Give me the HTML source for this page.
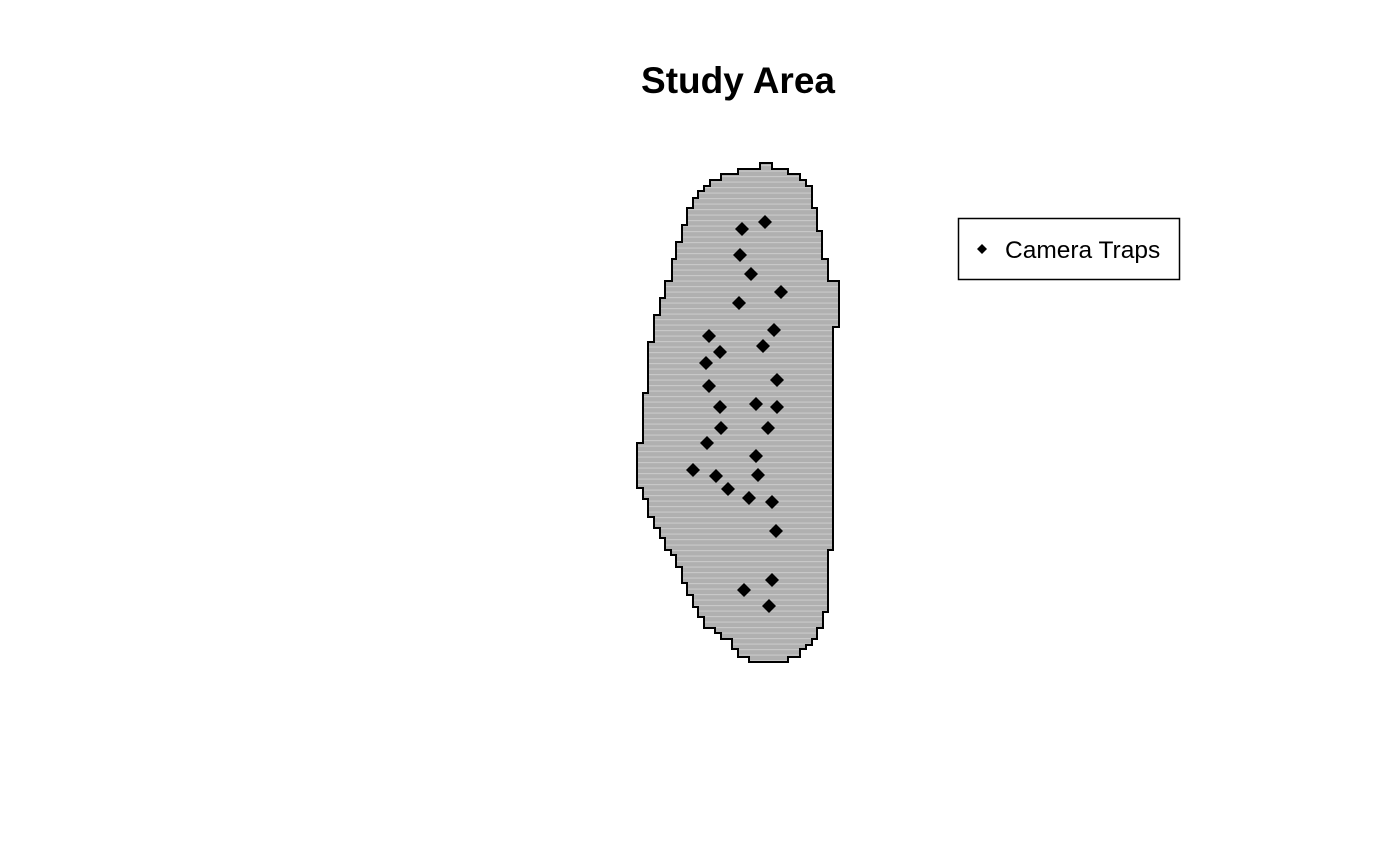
<!DOCTYPE html>
<html><head><meta charset="utf-8"><style>
html,body{margin:0;padding:0;background:#fff}
svg{display:block;font-family:"Liberation Sans",Arial,sans-serif}
</style></head><body>
<svg id="chart" width="1400" height="865" viewBox="0 0 1400 865">
<defs>
<pattern id="hatch" width="6" height="5.5" patternUnits="userSpaceOnUse">
<rect width="6" height="5.5" fill="#b0b0b0"/>
<rect y="0" width="6" height="1.2" fill="#c8c8c8"/>
</pattern>
</defs>
<text x="738" y="93" text-anchor="middle" font-size="37" font-weight="bold">Study Area</text>
<g id="area"></g>
<g id="traps"></g>
<g>
<rect x="958.5" y="218.5" width="221" height="61" fill="#fff" stroke="#000" stroke-width="1.5"/>
<path d="M982 244 L987 249 L982 254 L977 249 Z" fill="#000"/>
<text x="1005" y="258" font-size="24.5">Camera Traps</text>
</g>
</svg>
<script>
// Map units: 1 unit = 10 px; origin at pixel (600, 700), y up
const trapX = [14.2,16.5,14.0,15.1,18.1,13.9,17.4,10.9,16.3,12.0,10.6,17.7,10.9,12.0,15.6,17.7,12.1,16.8,10.7,15.6,9.3,11.6,15.8,12.8,14.9,17.2,17.6,17.2,14.4,16.9];
const trapY = [47.1,47.8,44.5,42.6,40.8,39.7,37.0,36.4,35.4,34.8,33.7,32.0,31.4,29.3,29.6,29.3,27.2,27.2,25.7,24.4,23.0,22.4,22.5,21.1,20.2,19.8,16.9,12.0,11.0,9.4];
// Left boundary: band tops (northing) and easting
const leftTop =  [53.7,53.1,52.6,52.0,51.4,50.9,50.2,49.2,47.5,45.8,44.1,41.9,40.2,38.5,35.8,30.7,25.7,21.2,20.1,18.3,17.2,16.2,15.0,14.5,13.3,11.7,10.5,9.3,8.3,7.2,6.7,6.1,5.1,4.3];
const leftX =    [16.0,13.8,12.1,11.0,10.4,9.8,9.3,8.7,8.2,7.6,7.2,6.5,6.0,5.4,4.8,4.3,3.7,4.3,4.8,5.4,6.0,6.5,7.1,7.6,8.2,8.7,9.3,9.8,10.4,11.5,12.1,13.2,13.8,14.9];
// Right boundary: band tops (northing) and easting
const rightTop = [53.7,53.1,52.6,52.0,51.4,49.2,46.9,44.1,41.9,37.3,15.0,8.8,7.2,6.1,5.5,5.1,4.3];
const rightX =   [17.2,18.8,20.0,20.6,21.2,21.7,22.2,22.8,23.9,23.3,22.8,22.3,21.7,21.2,20.6,20.0,18.8];
const yBottomEnd = 3.8;
const xs = v => 600 + v*10;
const ys = v => 700 - v*10;
const NS = "http://www.w3.org/2000/svg";
function steps(tops, xv){
  const out=[];
  for (let i=0;i<tops.length;i++){
    const t = ys(tops[i]);
    const b = ys(i+1<tops.length ? tops[i+1] : yBottomEnd);
    out.push([xs(xv[i]),t],[xs(xv[i]),b]);
  }
  return out;
}
const pts = steps(rightTop,rightX).concat(steps(leftTop,leftX).reverse());
const poly = document.createElementNS(NS,"polygon");


poly.setAttribute("points", pts.map(p=>p[0].toFixed(1)+","+p[1].toFixed(1)).join(" "));
poly.setAttribute("fill","url(#hatch)");
poly.setAttribute("stroke","#000");
poly.setAttribute("stroke-width","2");
document.getElementById("area").appendChild(poly);
const g = document.getElementById("traps");
for (let i=0;i<trapX.length;i++){
  const cx = xs(trapX[i]), cy = ys(trapY[i]);
  const d = document.createElementNS(NS,"path");
  
  
  d.setAttribute("d",`M${cx} ${cy-7} L${cx+7} ${cy} L${cx} ${cy+7} L${cx-7} ${cy} Z`);
  d.setAttribute("fill","#000");
  g.appendChild(d);
}
</script>
</body></html>
